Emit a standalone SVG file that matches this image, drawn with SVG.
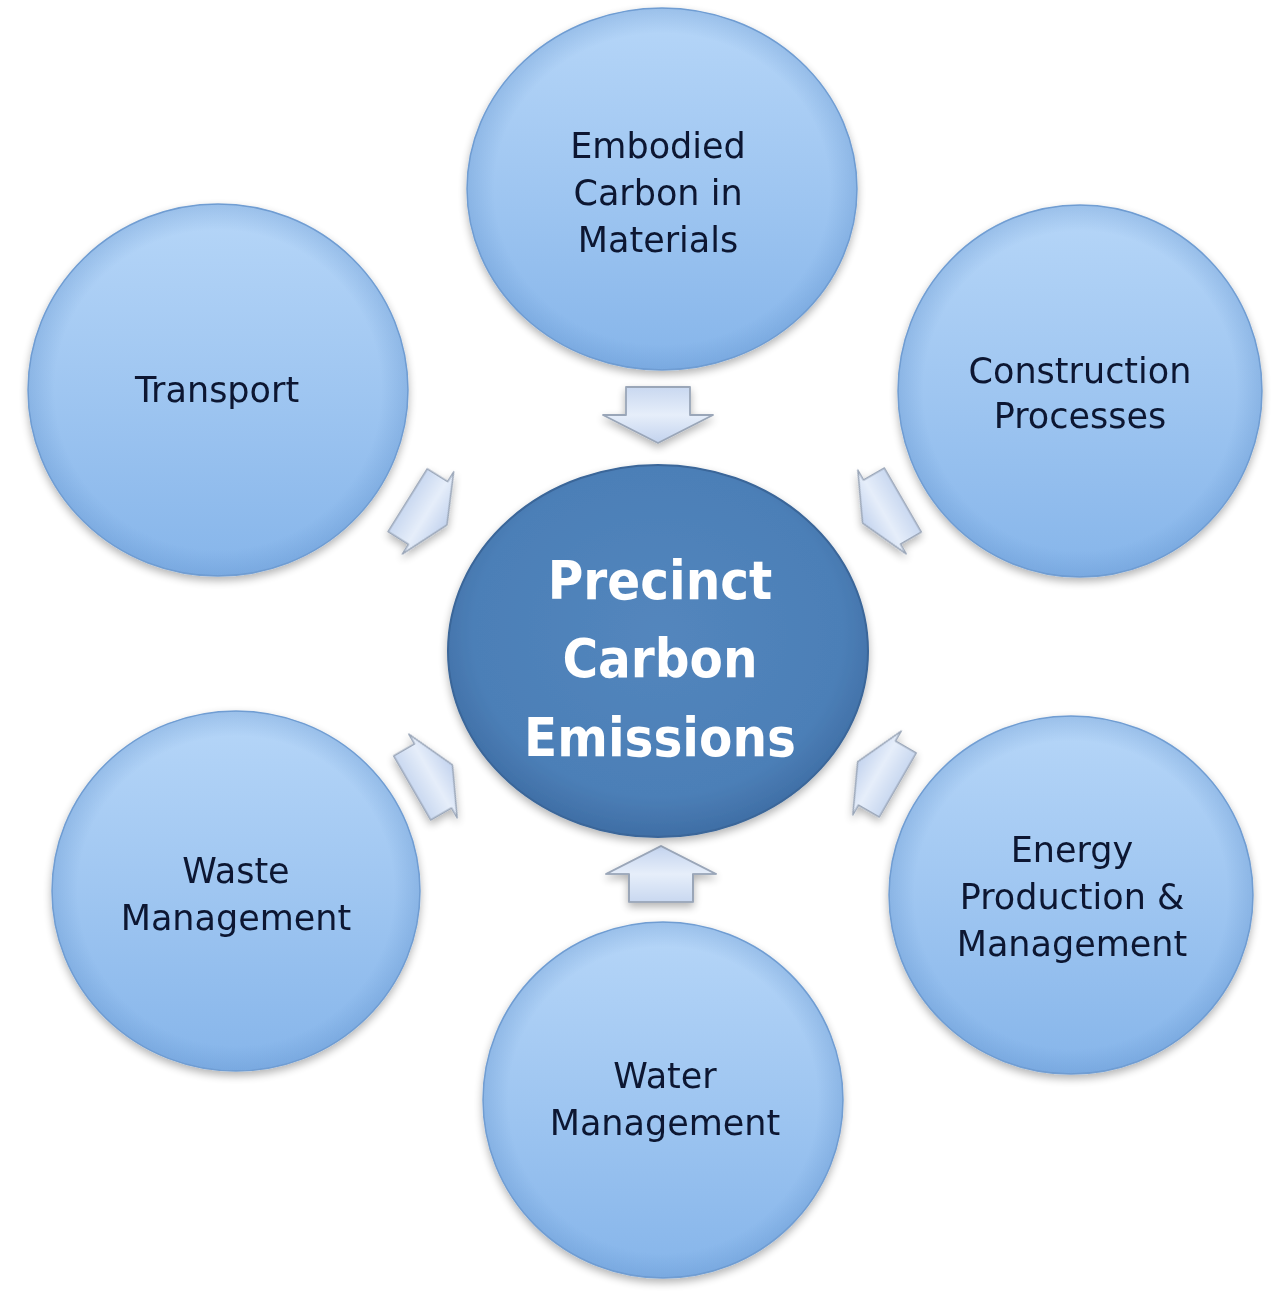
<svg xmlns="http://www.w3.org/2000/svg" width="1274" height="1292" viewBox="0 0 1274 1292">
<defs>
  <linearGradient id="gCircle" x1="0" y1="0" x2="0" y2="1">
    <stop offset="0" stop-color="#b6d6f8"/>
    <stop offset="0.5" stop-color="#9fc6f1"/>
    <stop offset="1" stop-color="#86b5ea"/>
  </linearGradient>
  <radialGradient id="gRim" cx="0.5" cy="0.5" r="0.5">
    <stop offset="0.86" stop-color="#5a8cc8" stop-opacity="0"/>
    <stop offset="1" stop-color="#5a8cc8" stop-opacity="0.3"/>
  </radialGradient>
  <radialGradient id="gCenter" cx="0.5" cy="0.45" r="0.55">
    <stop offset="0" stop-color="#5386bd"/>
    <stop offset="0.8" stop-color="#4c7fb7"/>
    <stop offset="1" stop-color="#3f6ea5"/>
  </radialGradient>
  <linearGradient id="gArrow" x1="0" y1="0" x2="1" y2="0">
    <stop offset="0" stop-color="#c9d8f0"/>
    <stop offset="0.5" stop-color="#e6eefa"/>
    <stop offset="1" stop-color="#c3d3ee"/>
  </linearGradient>
  <filter id="shadow" x="-10%" y="-10%" width="120%" height="125%">
    <feGaussianBlur in="SourceAlpha" stdDeviation="4"/>
    <feOffset dx="0" dy="4" result="b"/>
    <feComponentTransfer><feFuncA type="linear" slope="0.3"/></feComponentTransfer>
    <feMerge><feMergeNode/><feMergeNode in="SourceGraphic"/></feMerge>
  </filter>
  <polygon id="arrowShape" points="-28,-32 0,-32 0,-55 28,0 0,55 0,32 -28,32"/>
  <polygon id="arrowDiag" points="-30,-42 0,-42 0,-55 28,0 0,55 0,42 -30,42"/>
</defs>
<style>
  .sat { fill: url(#gCircle); stroke: #74a0d4; stroke-width: 1.5; }
  .rim { fill: url(#gRim); stroke: none; }
  .ctr { fill: url(#gCenter); stroke: #3a6699; stroke-width: 2; }
  .lbl { font-family: "DejaVu Sans", "Liberation Sans", sans-serif; font-size: 35px; fill: #0c1831; text-anchor: middle; }
  .big { font-family: "DejaVu Sans Condensed", "DejaVu Sans", sans-serif; font-weight: bold; font-size: 54px; fill: #ffffff; text-anchor: middle; }
  .arr { fill: url(#gArrow); stroke: #9aa6b8; stroke-width: 1.8; stroke-linejoin: round; }
</style>
<rect width="1274" height="1292" fill="#ffffff"/>

<g id="connectors" filter="url(#shadow)">
  <use href="#arrowShape" class="arr" transform="translate(658,415) rotate(90)"/>
  <use href="#arrowDiag" class="arr" transform="translate(428,513) rotate(32) scale(0.8,0.88)"/>
  <use href="#arrowDiag" class="arr" transform="translate(882,512) rotate(150) scale(0.8,0.88)"/>
  <use href="#arrowDiag" class="arr" transform="translate(433,776) rotate(-30) scale(0.8,0.88)"/>
  <use href="#arrowDiag" class="arr" transform="translate(877,773) rotate(-150) scale(0.8,0.88)"/>
  <use href="#arrowShape" class="arr" transform="translate(661,874) rotate(-90)"/>
</g>

<g id="node-embodied" filter="url(#shadow)">
  <ellipse class="sat" cx="662" cy="189" rx="195" ry="181"/>
  <ellipse class="rim" cx="662" cy="189" rx="195" ry="181"/>
  <text class="lbl" x="658" y="158">Embodied</text>
  <text class="lbl" x="658" y="205">Carbon in</text>
  <text class="lbl" x="658" y="252">Materials</text>
</g>

<g id="node-transport" filter="url(#shadow)">
  <ellipse class="sat" cx="218" cy="390" rx="190" ry="186"/>
  <ellipse class="rim" cx="218" cy="390" rx="190" ry="186"/>
  <text class="lbl" x="217" y="402">Transport</text>
</g>

<g id="node-construction" filter="url(#shadow)">
  <ellipse class="sat" cx="1080" cy="391" rx="182" ry="186"/>
  <ellipse class="rim" cx="1080" cy="391" rx="182" ry="186"/>
  <text class="lbl" x="1080" y="383">Construction</text>
  <text class="lbl" x="1080" y="428">Processes</text>
</g>

<g id="node-waste" filter="url(#shadow)">
  <ellipse class="sat" cx="236" cy="891" rx="184" ry="180"/>
  <ellipse class="rim" cx="236" cy="891" rx="184" ry="180"/>
  <text class="lbl" x="236" y="883">Waste</text>
  <text class="lbl" x="236" y="930">Management</text>
</g>

<g id="node-energy" filter="url(#shadow)">
  <ellipse class="sat" cx="1071" cy="895" rx="182" ry="179"/>
  <ellipse class="rim" cx="1071" cy="895" rx="182" ry="179"/>
  <text class="lbl" x="1072" y="862">Energy</text>
  <text class="lbl" x="1072" y="909">Production &amp;</text>
  <text class="lbl" x="1072" y="956">Management</text>
</g>

<g id="node-water" filter="url(#shadow)">
  <ellipse class="sat" cx="663" cy="1100" rx="180" ry="178"/>
  <ellipse class="rim" cx="663" cy="1100" rx="180" ry="178"/>
  <text class="lbl" x="665" y="1088">Water</text>
  <text class="lbl" x="665" y="1135">Management</text>
</g>

<g id="node-center" filter="url(#shadow)">
  <ellipse class="ctr" cx="658" cy="651" rx="210" ry="186"/>
  <text class="big" x="660" y="599">Precinct</text>
  <text class="big" x="660" y="677">Carbon</text>
  <text class="big" x="660" y="756">Emissions</text>
</g>
</svg>
